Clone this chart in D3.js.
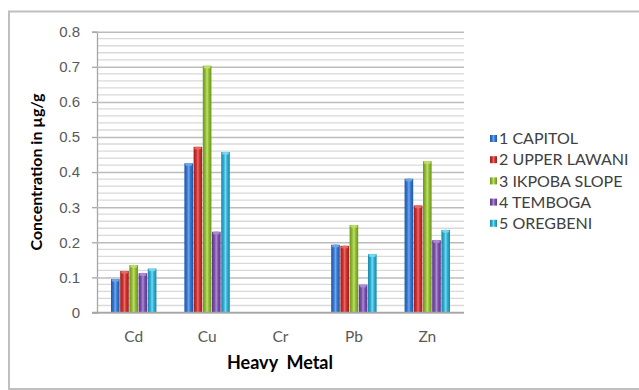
<!DOCTYPE html>
<html>
<head>
<meta charset="utf-8">
<script src="https://cdn.jsdelivr.net/npm/d3@7/dist/d3.min.js"></script>
<style>
  html, body { margin: 0; padding: 0; background: #ffffff; }
  svg { display: block; font-family: Lato, "Open Sans", sans-serif; }
</style>
</head>
<body>
<svg id="chart" width="639" height="390"></svg>
<script>
// Heavy metal concentrations (µg/g) at five sampling sites
const metals = ["Cd", "Cu", "Cr", "Pb", "Zn"];
const sites = ["1 CAPITOL", "2 UPPER LAWANI", "3 IKPOBA SLOPE", "4 TEMBOGA", "5 OREGBENI"];
const capitol     = [0.095, 0.425, 0, 0.193, 0.381];
const upperLawani = [0.118, 0.472, 0, 0.190, 0.305];
const ikpobaSlope = [0.135, 0.703, 0, 0.249, 0.431];
const temboga     = [0.112, 0.230, 0, 0.079, 0.206];
const oregbeni    = [0.125, 0.457, 0, 0.166, 0.235];
const yTicks = [0, 0.1, 0.2, 0.3, 0.4, 0.5, 0.6, 0.7, 0.8];

const seriesValues = [capitol, upperLawani, ikpobaSlope, temboga, oregbeni];
const colors = [
  { dark: "#1f56a6", mid: "#3477cf", light: "#6fa6ea" },
  { dark: "#9c1f1f", mid: "#cc3030", light: "#ec6a66" },
  { dark: "#6b9420", mid: "#8fbb31", light: "#c0e06a" },
  { dark: "#5a3585", mid: "#7c52ab", light: "#ad8bd4" },
  { dark: "#1a86a8", mid: "#2eaed2", light: "#78d8f0" }
];

const svg = d3.select("#chart");

// Chart frame
svg.append("rect")
  .attr("x", 9).attr("y", 11.5)
  .attr("width", 640).attr("height", 377.5)
  .attr("fill", "#ffffff")
  .attr("stroke", "#bfbfbf").attr("stroke-width", 2);

const plot = { left: 97, right: 464, top: 31.7, bottom: 312.5 };

const x = d3.scaleBand()
  .domain(metals)
  .range([plot.left, plot.right])
  .paddingInner(0.373)
  .paddingOuter(0.1865);

const xs = d3.scaleBand()
  .domain(d3.range(sites.length))
  .range([0, x.bandwidth()])
  .padding(0);

const y = d3.scaleLinear().domain([0, 0.8]).range([plot.bottom, plot.top]);

// Gradients giving the bars a rounded, lit look
const defs = svg.append("defs");
colors.forEach((c, i) => {
  const g = defs.append("linearGradient")
    .attr("id", "bar" + i)
    .attr("x1", "0").attr("x2", "1").attr("y1", "0").attr("y2", "0");
  g.append("stop").attr("offset", "0%").attr("stop-color", c.dark);
  g.append("stop").attr("offset", "30%").attr("stop-color", c.mid);
  g.append("stop").attr("offset", "50%").attr("stop-color", c.light);
  g.append("stop").attr("offset", "70%").attr("stop-color", c.mid);
  g.append("stop").attr("offset", "100%").attr("stop-color", c.dark);
});

// Minor gridlines every 0.02
const minor = d3.range(1, 40).map(i => i * 0.02).filter(v => Math.abs(v * 10 - Math.round(v * 10)) > 1e-6);
svg.append("g")
  .selectAll("line")
  .data(minor)
  .join("line")
  .attr("x1", plot.left).attr("x2", plot.right)
  .attr("y1", d => y(d)).attr("y2", d => y(d))
  .attr("stroke", "#d9d9d9").attr("stroke-width", 1.3);

// Major gridlines + y axis
const yAxis = d3.axisLeft(y)
  .tickValues(yTicks)
  .tickFormat(d => d === 0 ? "0" : d3.format(".1f")(d))
  .tickSize(5)
  .tickPadding(12);

const gy = svg.append("g")
  .attr("transform", `translate(${plot.left},0)`)
  .call(yAxis);
gy.select(".domain").attr("stroke", "#a6a6a6").attr("stroke-width", 1.3);
gy.selectAll(".tick line").attr("stroke", "#a6a6a6").attr("stroke-width", 1.3);
gy.selectAll(".tick").append("line")
  .attr("x1", 0).attr("x2", plot.right - plot.left)
  .attr("stroke", "#bcbcbc").attr("stroke-width", 1.5);
gy.selectAll("text")
  .attr("fill", "#595959")
  .style("font-size", "15px");

// Bars
const groups = svg.append("g")
  .selectAll("g")
  .data(metals)
  .join("g")
  .attr("transform", d => `translate(${x(d)},0)`);

groups.selectAll("rect")
  .data((m, mi) => seriesValues.map((vals, si) => ({ si, v: vals[mi] })))
  .join("rect")
  .attr("x", d => xs(d.si) + 0.3)
  .attr("width", xs.bandwidth() - 0.6)
  .attr("y", d => y(d.v))
  .attr("height", d => y(0) - y(d.v))
  .attr("fill", d => `url(#bar${d.si})`);

// Light cap on each bar top
groups.selectAll("ellipse")
  .data((m, mi) => seriesValues.map((vals, si) => ({ si, v: vals[mi] })).filter(d => d.v > 0))
  .join("ellipse")
  .attr("cx", d => xs(d.si) + xs.bandwidth() / 2)
  .attr("cy", d => y(d.v) + 1.2)
  .attr("rx", xs.bandwidth() / 2 - 1)
  .attr("ry", 1.6)
  .attr("fill", d => colors[d.si].light)
  .attr("opacity", 0.9);

// X axis baseline and labels
svg.append("line")
  .attr("x1", plot.left - 5).attr("x2", plot.right)
  .attr("y1", y(0)).attr("y2", y(0))
  .attr("stroke", "#a6a6a6").attr("stroke-width", 1.3);

svg.append("g")
  .selectAll("text")
  .data(metals)
  .join("text")
  .attr("x", d => x(d) + x.bandwidth() / 2)
  .attr("y", 342)
  .attr("text-anchor", "middle")
  .attr("fill", "#595959")
  .style("font-size", "15.5px")
  .text(d => d);

// Axis titles
svg.append("text")
  .attr("x", 280).attr("y", 369)
  .attr("text-anchor", "middle")
  .attr("fill", "#000000")
  .style("font-size", "18px")
  .style("font-weight", "bold")
  .style("white-space", "pre")
  .attr("xml:space", "preserve")
  .text("Heavy  Metal");

svg.append("text")
  .attr("transform", "translate(42,172) rotate(-90)")
  .attr("text-anchor", "middle")
  .attr("fill", "#000000")
  .style("font-size", "16px")
  .style("font-weight", "bold")
  .text("Concentration in µg/g");

// Legend
const legend = svg.append("g")
  .selectAll("g")
  .data(sites)
  .join("g")
  .attr("transform", (d, i) => `translate(490,${138.5 + i * 21.2})`);

legend.append("rect")
  .attr("x", 0).attr("y", -3.5)
  .attr("width", 7).attr("height", 7)
  .attr("fill", (d, i) => `url(#bar${i})`);

legend.append("text")
  .attr("x", 9).attr("y", 0)
  .attr("dy", "0.36em")
  .attr("fill", "#404040")
  .style("font-size", "16px")
  .text(d => d);
</script>
</body>
</html>
